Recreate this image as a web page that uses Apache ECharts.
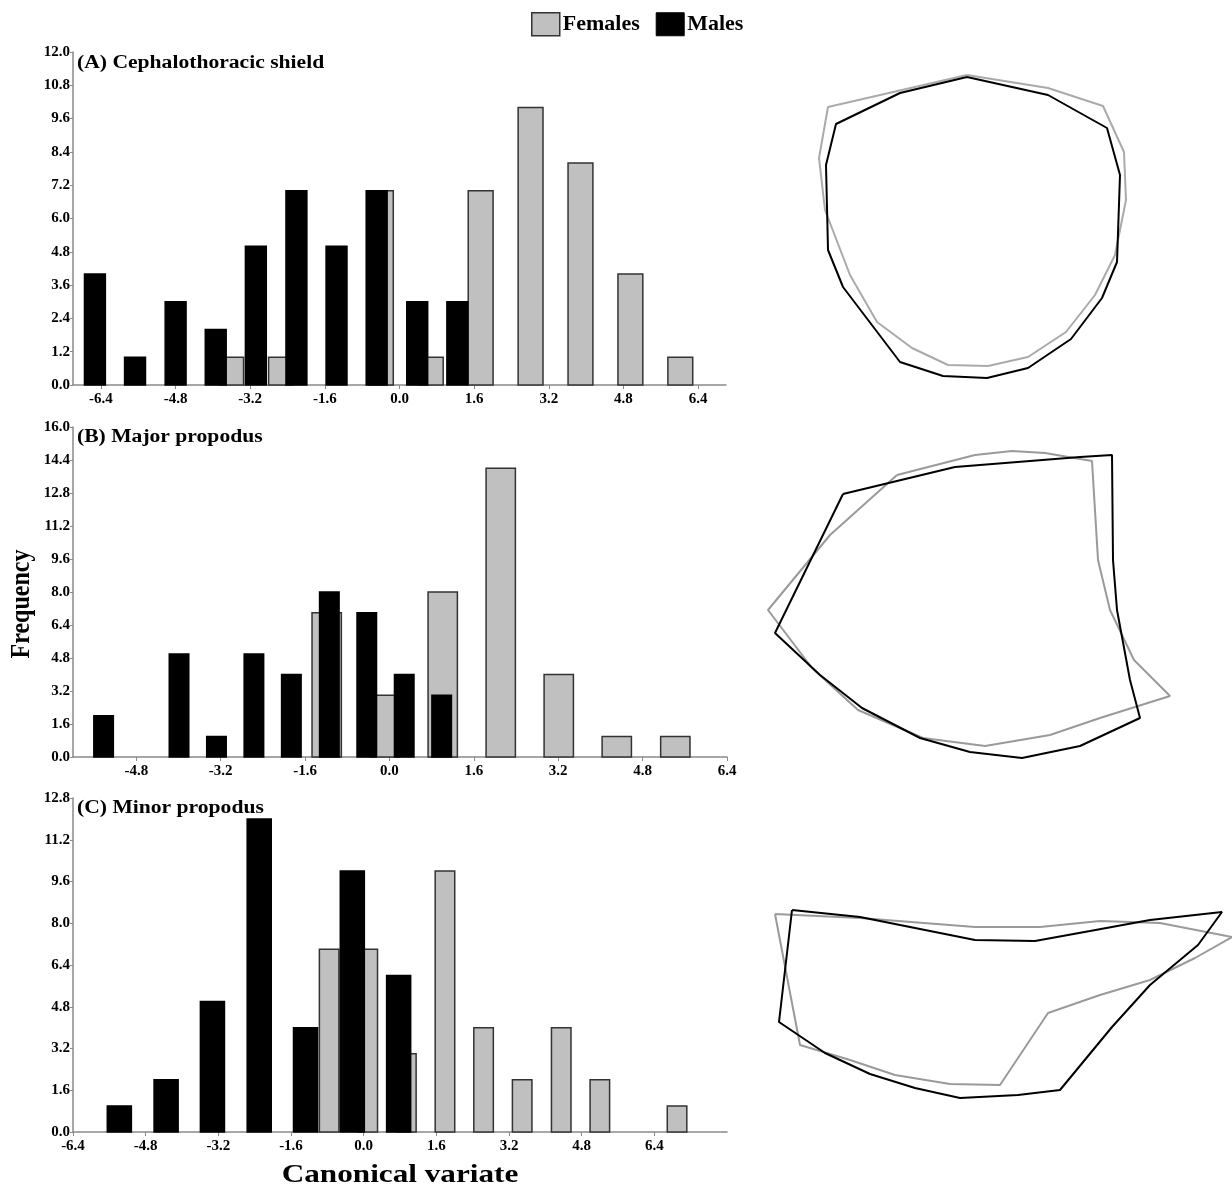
<!DOCTYPE html>
<html>
<head>
<meta charset="utf-8">
<script src="https://cdn.jsdelivr.net/npm/echarts@6/dist/echarts.min.js"></script>
<style>
html,body{margin:0;padding:0;background:#fff;}
#chart{width:1232px;height:1186px;}
</style>
</head>
<body>
<div id="chart"></div>
<script>
// ---------- Data ----------
const xTicksA = [-6.4, -4.8, -3.2, -1.6, 0.0, 1.6, 3.2, 4.8, 6.4];
const xTicksB = [-4.8, -3.2, -1.6, 0.0, 1.6, 3.2, 4.8, 6.4];
const xTicksC = [-6.4, -4.8, -3.2, -1.6, 0.0, 1.6, 3.2, 4.8, 6.4];

// (A) Cephalothoracic shield
const maleBinsA = [-6.53, -5.67, -4.80, -3.94, -3.08, -2.21, -1.35, -0.49, 0.38, 1.24];
const maleCountsA = [4, 1, 3, 2, 5, 7, 5, 7, 3, 3];
const femaleBinsA = [-3.61, -2.54, -1.47, -0.40, 0.67, 1.74, 2.81, 3.88, 4.95, 6.02];
const femaleCountsA = [1, 1, 0, 7, 1, 7, 10, 8, 4, 1];

// (B) Major propodus
const maleBinsB = [-5.42, -4.71, -3.99, -3.28, -2.57, -1.86, -1.14, -0.43, 0.28, 0.99];
const maleCountsB = [2, 0, 5, 1, 5, 4, 8, 7, 4, 3];
const femaleBinsB = [-1.19, -0.09, 1.01, 2.11, 3.21, 4.31, 5.42];
const femaleCountsB = [7, 3, 8, 14, 4, 1, 1];

// (C) Minor propodus
const maleBinsC = [-5.38, -4.35, -3.33, -2.30, -1.28, -0.25, 0.77];
const maleCountsC = [1, 2, 5, 12, 4, 10, 6];
const femaleBinsC = [-0.76, 0.09, 0.94, 1.79, 2.64, 3.49, 4.35, 5.20, 6.05, 6.90];
const femaleCountsC = [7, 7, 3, 10, 4, 2, 4, 2, 0, 1];

// Mean shape outlines (landmark coordinates, local units, y downwards)
const shapeAFemale = [[167,15],[248,28],[303,46],[324,92],[326,140],[315,195],[295,235],[266,272],[228,297],[188,306],[148,305],[112,288],[77,262],[50,215],[25,150],[19,98],[28,47]];
const shapeAMale = [[167,17],[248,35],[307,68],[320,115],[317,202],[302,238],[271,279],[228,308],[187,318],[143,316],[100,302],[43,227],[28,190],[26,105],[36,64],[100,33]];
const shapeBFemale = [[137,35],[215,15],[252,11],[285,13],[332,21],[338,120],[350,170],[374,220],[410,256],[340,278],[290,295],[225,306],[163,298],[98,270],[52,228],[8,170],[70,95]];
const shapeBMale = [[83,54],[195,27],[320,17],[352,15],[353,120],[357,170],[370,240],[380,278],[320,306],[262,318],[210,312],[160,298],[102,268],[60,235],[15,193]];
const shapeCFemale = [[15,14],[100,18],[215,27],[280,27],[340,21],[400,23],[472,37],[435,58],[390,80],[340,95],[288,113],[240,185],[190,184],[135,175],[90,160],[40,145]];
const shapeCMale = [[32,10],[100,17],[215,40],[275,41],[330,31],[390,20],[462,12],[438,45],[390,85],[352,127],[300,190],[258,195],[200,198],[155,188],[110,174],[65,153],[19,122]];

// ---------- Styles ----------
const FONT = '"Liberation Serif", "Times New Roman", serif';
const FEMALE_FILL = '#c0c0c0', FEMALE_EDGE = '#333333';
const MALE_FILL = '#000000';
const AXIS_GRAY = '#8a8a8a';

function pairs(bins, counts) { return bins.map((b, i) => [b, counts[i]]); }
function closed(pts) { return pts.concat([pts[0]]); }

function histSeries(name, idx, bins, counts, binWidth, fill, edge) {
  return {
    type: 'custom',
    name: name,
    xAxisIndex: idx, yAxisIndex: idx,
    data: pairs(bins, counts),
    itemStyle: { color: fill, borderColor: edge, borderWidth: 1.5 },
    renderItem: function (params, api) {
      const x = api.value(0), y = api.value(1);
      if (!y) return null;
      const p0 = api.coord([x - binWidth / 2, y]);
      const p1 = api.coord([x + binWidth / 2, 0]);
      return {
        type: 'rect',
        shape: { x: p0[0], y: p0[1], width: p1[0] - p0[0], height: p1[1] - p0[1] },
        style: { fill: fill, stroke: edge, lineWidth: 1.5 }
      };
    }
  };
}

function xAxis(idx, min, max, ticks) {
  return {
    type: 'value', gridIndex: idx, min: min, max: max,
    axisLine: { show: true, onZero: false, lineStyle: { color: AXIS_GRAY, width: 1.5 } },
    axisTick: { show: true, length: 4, lineStyle: { color: AXIS_GRAY }, customValues: ticks },
    axisLabel: { customValues: ticks, margin: 7, color: '#000', fontFamily: FONT, fontWeight: 'bold', fontSize: 15,
      formatter: v => v.toFixed(1) },
    splitLine: { show: false }
  };
}
function yAxis(idx, max, interval) {
  return {
    type: 'value', gridIndex: idx, min: 0, max: max, interval: interval,
    axisLine: { show: true, onZero: false, lineStyle: { color: AXIS_GRAY, width: 1.5 } },
    axisTick: { show: true, length: 3, lineStyle: { color: AXIS_GRAY } },
    axisLabel: { margin: 3, color: '#000', fontFamily: FONT, fontWeight: 'bold', fontSize: 15,
      formatter: v => v.toFixed(1) },
    splitLine: { show: false }
  };
}
function hiddenAxis(idx, min, max, inverse) {
  return { type: 'value', gridIndex: idx, min: min, max: max, inverse: !!inverse, show: false,
    splitLine: { show: false } };
}
function shapeSeries(idx, pts, color) {
  return { type: 'line', xAxisIndex: idx, yAxisIndex: idx, data: closed(pts), showSymbol: false,
    clip: false, silent: true, lineStyle: { color: color, width: 2 }, z: 3 };
}
function label(text, x, y, size, opts) {
  return Object.assign({
    type: 'text', x: x, y: y, scaleX: 1.2,
    style: { text: text, fill: '#000', font: 'bold ' + size + 'px ' + FONT, textAlign: 'left', textVerticalAlign: 'middle' }
  }, opts || {});
}

const option = {
  backgroundColor: '#ffffff',
  animation: false,
  textStyle: { fontFamily: FONT },
  legend: {
    left: 531, top: 12, itemWidth: 28, itemHeight: 23, itemGap: 16, padding: 0,
    textStyle: { fontFamily: FONT, fontWeight: 'bold', fontSize: 22, color: '#000', padding: [0, 0, 0, -2] },
    data: [
      { name: 'Females', icon: 'rect', itemStyle: { color: FEMALE_FILL, borderColor: FEMALE_EDGE, borderWidth: 1.5 } },
      { name: 'Males', icon: 'rect', itemStyle: { color: MALE_FILL, borderColor: MALE_FILL, borderWidth: 1 } }
    ]
  },
  graphic: [
    label('(A) Cephalothoracic shield', 77, 63, 18),
    label('(B) Major propodus', 77, 437, 18),
    label('(C) Minor propodus', 77, 808, 18),
    label('Canonical variate', 400, 1175, 26, { style: { text: 'Canonical variate', fill: '#000', font: 'bold 26px ' + FONT, textAlign: 'center', textVerticalAlign: 'middle' } }),
    { type: 'text', x: 22, y: 604, rotation: Math.PI / 2, scaleY: 1.15,
      style: { text: 'Frequency', fill: '#000', font: 'bold 24px ' + FONT, textAlign: 'center', textVerticalAlign: 'middle' } }
  ],
  grid: [
    { left: 73, top: 52, width: 653, height: 333 },
    { left: 73, top: 427, width: 654, height: 330 },
    { left: 73, top: 798, width: 654, height: 334 },
    { left: 800, top: 60, width: 340, height: 330 },
    { left: 760, top: 440, width: 420, height: 330 },
    { left: 760, top: 900, width: 472, height: 200 }
  ],
  xAxis: [
    xAxis(0, -7.0, 7.0, xTicksA),
    xAxis(1, -6.0, 6.4, xTicksB),
    xAxis(2, -6.4, 8.0, xTicksC),
    hiddenAxis(3, 0, 340),
    hiddenAxis(4, 0, 420),
    hiddenAxis(5, 0, 472)
  ],
  yAxis: [
    yAxis(0, 12.0, 1.2),
    yAxis(1, 16.0, 1.6),
    yAxis(2, 12.8, 1.6),
    hiddenAxis(3, 0, 330, true),
    hiddenAxis(4, 0, 330, true),
    hiddenAxis(5, 0, 200, true)
  ],
  series: [
    histSeries('Females', 0, femaleBinsA, femaleCountsA, 0.533, FEMALE_FILL, FEMALE_EDGE),
    histSeries('Males', 0, maleBinsA, maleCountsA, 0.448, MALE_FILL, MALE_FILL),
    histSeries('Females', 1, femaleBinsB, femaleCountsB, 0.556, FEMALE_FILL, FEMALE_EDGE),
    histSeries('Males', 1, maleBinsB, maleCountsB, 0.37, MALE_FILL, MALE_FILL),
    histSeries('Females', 2, femaleBinsC, femaleCountsC, 0.43, FEMALE_FILL, FEMALE_EDGE),
    histSeries('Males', 2, maleBinsC, maleCountsC, 0.53, MALE_FILL, MALE_FILL),
    shapeSeries(3, shapeAFemale, '#aaaaaa'),
    shapeSeries(3, shapeAMale, '#000000'),
    shapeSeries(4, shapeBFemale, '#9a9a9a'),
    shapeSeries(4, shapeBMale, '#000000'),
    shapeSeries(5, shapeCFemale, '#9a9a9a'),
    shapeSeries(5, shapeCMale, '#000000')
  ]
};

const chart = echarts.init(document.getElementById('chart'), null, { renderer: 'canvas' });
chart.setOption(option);
</script>
</body>
</html>
